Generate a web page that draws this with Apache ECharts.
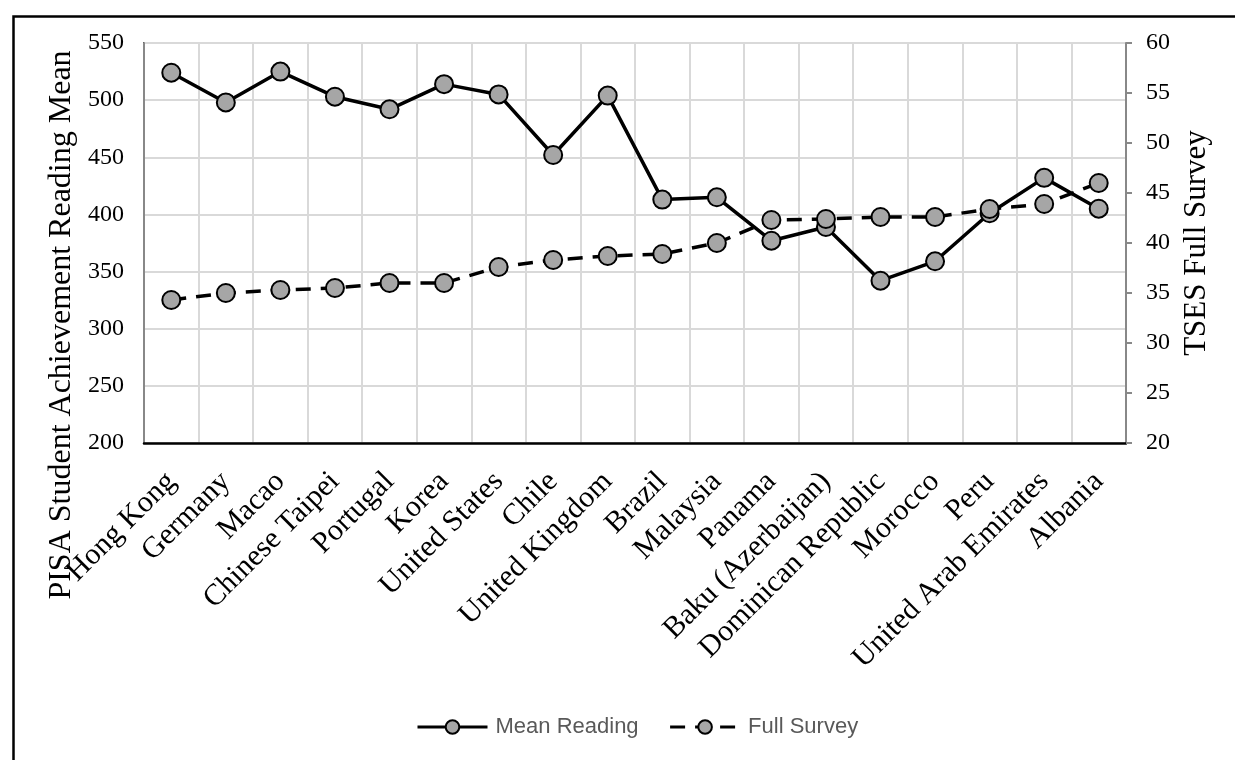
<!DOCTYPE html>
<html>
<head>
<meta charset="utf-8">
<script src="https://cdn.jsdelivr.net/npm/echarts@6/dist/echarts.min.js"></script>
<style>
  html, body { margin: 0; padding: 0; background: #fff; }
  #chart { width: 1235px; height: 760px; }
</style>
</head>
<body>
<div id="chart"></div>
<script>
// PISA reading means vs. TSES full-survey scores by system
const countries = ['Hong Kong', 'Germany', 'Macao', 'Chinese Taipei', 'Portugal', 'Korea',
  'United States', 'Chile', 'United Kingdom', 'Brazil', 'Malaysia', 'Panama',
  'Baku (Azerbaijan)', 'Dominican Republic', 'Morocco', 'Peru', 'United Arab Emirates', 'Albania'];
const meanReading = [524, 498, 525, 503, 492, 514, 505, 452, 504, 413, 415, 377, 389, 342, 359, 401, 432, 405];
const fullSurvey = [34.3, 35.0, 35.3, 35.5, 36.0, 36.0, 37.6, 38.3, 38.7, 38.9, 40.0, 42.3, 42.4, 42.6, 42.6, 43.4, 43.9, 46.0];
const leftTicks = { min: 200, max: 550, interval: 50 };
const rightTicks = { min: 20, max: 60, interval: 5 };

const serif = '"Liberation Serif", "Times New Roman", serif';
const sans = '"Liberation Sans", Arial, sans-serif';

const chart = echarts.init(document.getElementById('chart'), null, { renderer: 'canvas' });

chart.setOption({
  animation: false,
  backgroundColor: '#ffffff',
  graphic: [{
    type: 'rect',
    left: 11, top: 14,
    shape: { width: 1400, height: 900 },
    style: { fill: 'none', stroke: '#000', lineWidth: 2.5 },
    silent: true
  }],
  grid: {
    left: 144, right: 109, top: 43, bottom: 317,
    show: true, borderColor: '#000', borderWidth: 2, backgroundColor: 'transparent'
  },
  legend: {
    bottom: 17, left: 411,
    itemWidth: 70, itemHeight: 17, itemGap: 30,
    lineStyle: { width: 3 },
    textStyle: { fontFamily: sans, fontSize: 22, color: '#595959', padding: [0, 0, 0, 3] },
    data: ['Mean Reading', 'Full Survey']
  },
  xAxis: {
    type: 'category',
    data: countries,
    boundaryGap: true,
    axisLine: { lineStyle: { color: '#000', width: 2.5 } },
    axisTick: { show: false },
    splitLine: { show: true, lineStyle: { color: '#d9d9d9', width: 2 } },
    axisLabel: {
      interval: 0, rotate: 45, margin: 34,
      fontFamily: serif, fontSize: 30, color: '#000'
    }
  },
  yAxis: [{
    type: 'value', position: 'left',
    min: leftTicks.min, max: leftTicks.max, interval: leftTicks.interval,
    name: 'PISA Student Achievement Reading Mean',
    nameLocation: 'middle', nameRotate: 90, nameGap: 66,
    nameTextStyle: { fontFamily: serif, fontSize: 32, color: '#000', padding: [0, 164, 0, 0] },
    axisLine: { show: true, lineStyle: { color: '#888', width: 2 } },
    axisTick: { show: false },
    splitLine: { show: true, lineStyle: { color: '#d9d9d9', width: 2 } },
    axisLabel: { margin: 20, fontFamily: serif, fontSize: 24, color: '#000' }
  }, {
    type: 'value', position: 'right',
    min: rightTicks.min, max: rightTicks.max, interval: rightTicks.interval,
    name: 'TSES Full Survey',
    nameLocation: 'middle', nameRotate: 90, nameGap: 55,
    nameTextStyle: { fontFamily: serif, fontSize: 31, color: '#000' },
    axisLine: { show: true, lineStyle: { color: '#888', width: 2 } },
    axisTick: { show: true, length: 6, lineStyle: { color: '#888', width: 2 } },
    splitLine: { show: false },
    axisLabel: { margin: 20, fontFamily: serif, fontSize: 24, color: '#000' }
  }],
  series: [{
    name: 'Mean Reading',
    type: 'line',
    yAxisIndex: 0,
    data: meanReading,
    symbol: 'circle', symbolSize: 18,
    lineStyle: { color: '#000', width: 3.5 },
    itemStyle: { color: '#a6a6a6', borderColor: '#000', borderWidth: 2 }
  }, {
    name: 'Full Survey',
    type: 'line',
    yAxisIndex: 1,
    data: fullSurvey,
    symbol: 'circle', symbolSize: 18,
    lineStyle: { color: '#000', width: 3.5, type: [15, 10] },
    itemStyle: { color: '#a6a6a6', borderColor: '#000', borderWidth: 2 }
  }]
});
</script>
</body>
</html>
